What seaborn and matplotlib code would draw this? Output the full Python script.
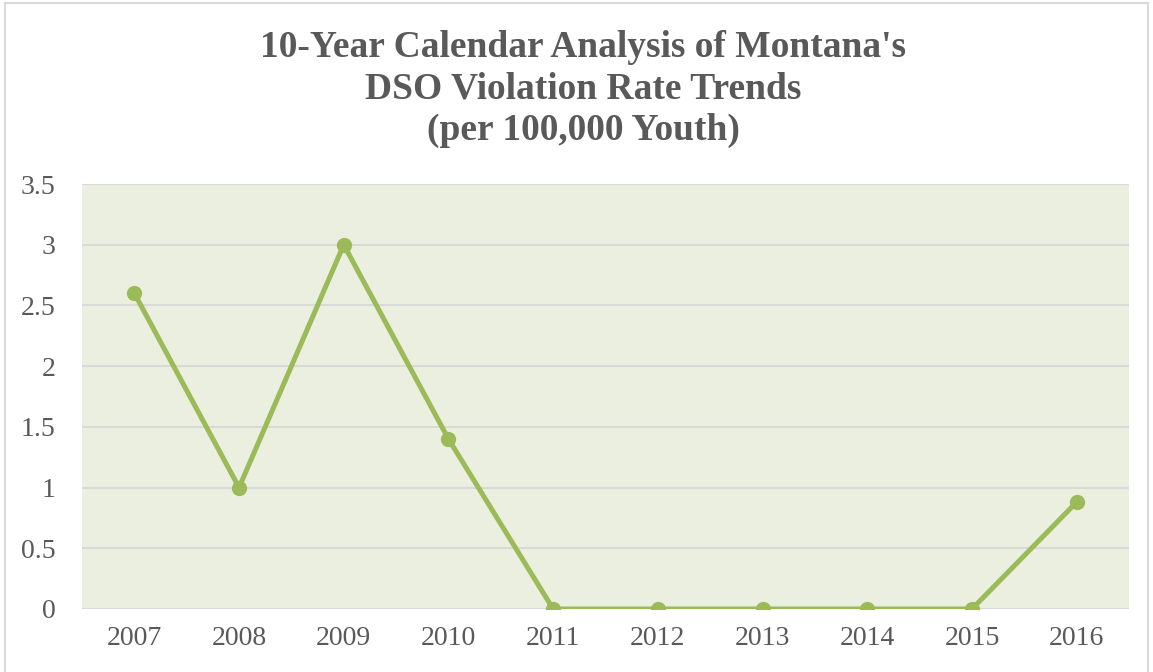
import pandas as pd
import matplotlib
matplotlib.use('Agg')
import matplotlib.pyplot as plt
import matplotlib.patches as patches
import seaborn as sns

# Datos
years = ['2007', '2008', '2009', '2010', '2011', '2012', '2013', '2014', '2015', '2016']
rates = [2.6, 1.0, 3.0, 1.4, 0, 0, 0, 0, 0, 0.88]
y_ticks = [0, 0.5, 1, 1.5, 2, 2.5, 3, 3.5]

df = pd.DataFrame({'Year': years, 'Rate': rates})

sns.set_theme(style='white')
plt.rcParams['font.family'] = ['Liberation Serif', 'DejaVu Serif']

fig = plt.figure(figsize=(11.53, 6.72), dpi=100)
ax = fig.add_axes([82 / 1153, 1 - 609 / 672, (1129 - 82) / 1153, (609 - 184) / 672])
ax.set_facecolor('#EBEFDF')

sns.lineplot(data=df, x='Year', y='Rate', ax=ax, color='#9BBB59', linewidth=3.6,
             marker='o', markersize=11, markeredgewidth=0, zorder=3)

ax.set_xlim(-0.5, len(years) - 0.5)
ax.set_ylim(0, 3.5)
ax.set_yticks(y_ticks)
ax.set_yticklabels([f'{t:g}' for t in y_ticks])
ax.yaxis.grid(True, color='#D9D9D9', linewidth=1.5)
ax.set_axisbelow(True)
for s in ax.spines.values():
    s.set_visible(False)
ax.tick_params(axis='both', length=0, labelsize=20, labelcolor='#595959')
ax.tick_params(axis='x', pad=12)
ax.tick_params(axis='y', pad=19)
ax.set_xlabel('')
ax.set_ylabel('')

# Titulo en tres lineas
fig.text(0.506, 1 - 89 / 672, "10-Year Calendar Analysis of Montana's\nDSO Violation Rate Trends\n(per 100,000 Youth)",
         ha='center', va='center', fontsize=27, fontweight='bold', color='#595959', linespacing=1.23)

# Borde del grafico
fig.patches.append(patches.Rectangle((5 / 1153, -0.01), 1143 / 1153, 1 - 3 / 672 + 0.01,
                                     transform=fig.transFigure, fill=False,
                                     edgecolor='#D9D9D9', linewidth=1.5))

fig.savefig('out.png', dpi=100)
